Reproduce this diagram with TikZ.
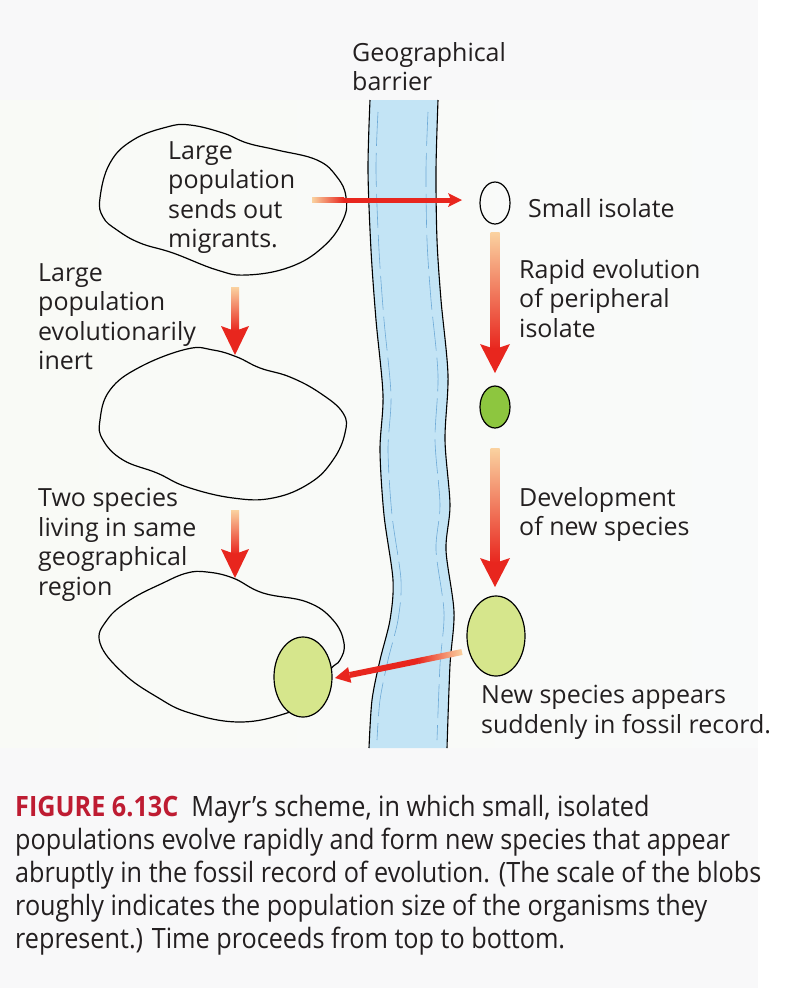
\documentclass[tikz,border=0pt]{standalone}
\usepackage{fontspec}
\setmainfont{Open Sans}
\newfontfamily\capfont[FakeStretch=0.9]{Open Sans}
\usetikzlibrary{shapes.geometric, calc}

\definecolor{ink}{RGB}{35,31,32}
\definecolor{figred}{RGB}{190,28,50}
\definecolor{riverblue}{RGB}{195,228,245}
\definecolor{riverline}{RGB}{110,170,215}
\definecolor{arrowred}{RGB}{232,38,30}
\definecolor{arrowmid}{RGB}{238,80,40}
\definecolor{arrowtail}{RGB}{250,210,160}
\definecolor{isogreen}{RGB}{141,198,63}
\definecolor{speciesgreen}{RGB}{214,230,140}
\definecolor{paper}{RGB}{248,248,249}
\definecolor{bgleft}{RGB}{249,250,246}
\definecolor{bgmid}{RGB}{234,241,215}
\definecolor{bgright}{RGB}{249,250,250}

\newcommand{\diagfont}{\fontsize{25}{29.5}\selectfont}
\newcommand{\figcapfont}{\capfont\fontsize{28}{33}\selectfont}

\begin{document}
\begin{tikzpicture}[x=1pt, y=-1pt,
	blob/.style={draw=black, line width=1.2pt},
	bank/.style={draw=black, line width=1.1pt},
	riverdash/.style={draw=riverline, line width=0.6pt, dash pattern=on 34pt off 7pt},
	txt/.style={font=\diagfont, text=ink, align=left, anchor=north west, inner sep=0pt},
	isolate/.style={ellipse, draw=black, line width=1.2pt, inner sep=0pt, minimum width=30pt, minimum height=42pt},
	species/.style={isolate, minimum width=58pt, minimum height=80pt, fill=speciesgreen}]

	\useasboundingbox (0,0) rectangle (811,988);
	\fill[paper] (0,0) rectangle (811,988);
	\shade[left color=bgleft, middle color=bgmid, right color=bgright] (0,100) rectangle (790,747);
	\fill[white] (758,0) rectangle (811,988);

	% barrier
	\fill[riverblue] plot[smooth] coordinates {(370,100) (368,170) (371,250) (376,320) (383,395) (380,450) (384,515) (393,580) (390,620) (380,660) (372,700) (369,748)}
		-- plot[smooth] coordinates {(447,748) (450,665) (454,612) (446,550) (450,505) (445,440) (448,375) (441,300) (437,240) (436,170) (438,100)} -- cycle;
	\draw[bank] plot[smooth] coordinates {(370,100) (368,170) (371,250) (376,320) (383,395) (380,450) (384,515) (393,580) (390,620) (380,660) (372,700) (369,748)};
	\draw[bank] plot[smooth] coordinates {(438,100) (436,170) (437,240) (441,300) (448,375) (445,440) (450,505) (446,550) (454,612) (450,665) (447,748)};
	\draw[riverdash] plot[smooth] coordinates {(378,112) (376,170) (379,250) (384,320) (391,395) (388,450) (392,515) (401,580) (398,620) (388,660) (380,700) (377,740)};
	\draw[riverdash] plot[smooth] coordinates {(428,112) (426,170) (427,240) (431,300) (438,375) (435,440) (440,505) (436,550) (444,612) (440,665) (437,740)};

	% populations
	\draw[blob] plot[smooth cycle, tension=0.7] coordinates {(100,198) (110,163) (133,140) (167,127) (190,125) (223,133) (247,143) (277,150) (317,160) (337,177) (346,197) (343,220) (323,247) (290,267) (247,275) (217,270) (173,253) (140,243) (117,230) (103,217)};
	\draw[blob] plot[smooth cycle, tension=0.7] coordinates {(100,420) (110,390) (140,367) (187,349) (213,350) (237,357) (260,368) (290,377) (320,393) (343,413) (345,433) (333,460) (310,483) (273,498) (233,498) (187,487) (157,473) (123,460) (103,440)};
	\draw[blob] plot[smooth cycle, tension=0.7] coordinates {(207,572) (233,578) (263,593) (307,602) (333,620) (344,643) (340,660) (330,670) (310,700) (287,713) (240,722) (190,713) (157,697) (123,673) (100,643) (107,620) (130,600) (163,583) (187,573)};

	% arrows
	\coordinate (m0) at (312,200);
	\coordinate (m1) at (462,200);
	\coordinate (m2) at ($(m0)+(32,0)$);
	\shade[left color=arrowtail, right color=arrowred] ($(m0)+(0,-2.5)$) rectangle ($(m2)+(0,2.5)$);
	\fill[arrowred] ($(m2)+(-0.5,-2.5)$) rectangle ($(m1)+(-11,2.5)$);
	\fill[arrowred] ($(m1)+(-14,-7)$) -- (m1) -- ($(m1)+(-14,7)$) -- ($(m1)+(-11,0)$) -- cycle;

	\coordinate (va0) at (235,287);
	\coordinate (va1) at (235,355);
	\shade[top color=arrowtail, middle color=arrowmid, bottom color=arrowred] ($(va0)+(-4,0)$) rectangle ($(va1)+(4,-24)$);
	\fill[arrowred] ($(va1)+(-14,-29)$) -- (va1) -- ($(va1)+(14,-29)$) -- ($(va1)+(0,-24)$) -- cycle;

	\coordinate (vb0) at (235,510);
	\coordinate (vb1) at (235,578);
	\shade[top color=arrowtail, middle color=arrowmid, bottom color=arrowred] ($(vb0)+(-4,0)$) rectangle ($(vb1)+(4,-24)$);
	\fill[arrowred] ($(vb1)+(-14,-29)$) -- (vb1) -- ($(vb1)+(14,-29)$) -- ($(vb1)+(0,-24)$) -- cycle;

	\coordinate (vc0) at (495,232);
	\coordinate (vc1) at (495,373);
	\shade[top color=arrowtail, middle color=arrowmid, bottom color=arrowred] ($(vc0)+(-4.5,0)$) rectangle ($(vc1)+(4.5,-24)$);
	\fill[arrowred] ($(vc1)+(-15,-29)$) -- (vc1) -- ($(vc1)+(15,-29)$) -- ($(vc1)+(0,-24)$) -- cycle;

	\coordinate (vd0) at (495,448);
	\coordinate (vd1) at (495,587);
	\shade[top color=arrowtail, middle color=arrowmid, bottom color=arrowred] ($(vd0)+(-4.5,0)$) rectangle ($(vd1)+(4.5,-24)$);
	\fill[arrowred] ($(vd1)+(-15,-29)$) -- (vd1) -- ($(vd1)+(15,-29)$) -- ($(vd1)+(0,-24)$) -- cycle;

	% isolates
	\node[isolate] (iso) at (495,203) {};
	\node[isolate, fill=isogreen] (evolved) at (495,407) {};
	\node[species] (newsp) at (496,636) {};
	\node[species] (oldsp) at (303,677) {};

	\coordinate (d0) at (462,652);
	\coordinate (d1) at (335,678);
	\coordinate (d2) at ($(d0)!45pt!(d1)$);
	\coordinate (hb) at ($(d1)!15pt!(d0)$);
	\shade[left color=arrowred, right color=arrowtail] ($(d0)!3pt!90:(d1)$) -- ($(d2)!3pt!90:(d1)$) -- ($(d2)!3pt!-90:(d1)$) -- ($(d0)!3pt!-90:(d1)$) -- cycle;
	\fill[arrowred] ($(d2)!3pt!90:(d1)$) -- ($(hb)!3pt!90:(d1)$) -- ($(hb)!3pt!-90:(d1)$) -- ($(d2)!3pt!-90:(d1)$) -- cycle;
	\fill[arrowred] ($(hb)!8pt!90:(d1)$) -- (d1) -- ($(hb)!8pt!-90:(d1)$) -- cycle;

	% labels
	\node[txt] (barrier) at (352,42) {Geographical\\barrier};
	\node[txt] (sends) at (168,141) {Large\\population\\sends out\\migrants.};
	\node[txt] (inert) at (38,263) {Large\\population\\evolutionarily\\inert};
	\node[txt] (twosp) at (38,488) {Two species\\living in same\\geographical\\region};
	\node[txt] (small) at (528,198) {Small isolate};
	\node[txt] (rapid) at (519,259) {Rapid evolution\\of peripheral\\isolate};
	\node[txt] (develop) at (519,487) {Development\\of new species};
	\node[txt] (appears) at (481,685) {New species appears\\suddenly in fossil record.};

	\node[txt, font=\figcapfont] (caption) at (15,795) {{\color{figred}\bfseries FIGURE 6.13C}\ \ Mayr’s scheme, in which small, isolated\\populations evolve rapidly and form new species that appear\\abruptly in the fossil record of evolution. (The scale of the blobs\\roughly indicates the population size of the organisms they\\represent.) Time proceeds from top to bottom.};
\end{tikzpicture}
\end{document}
